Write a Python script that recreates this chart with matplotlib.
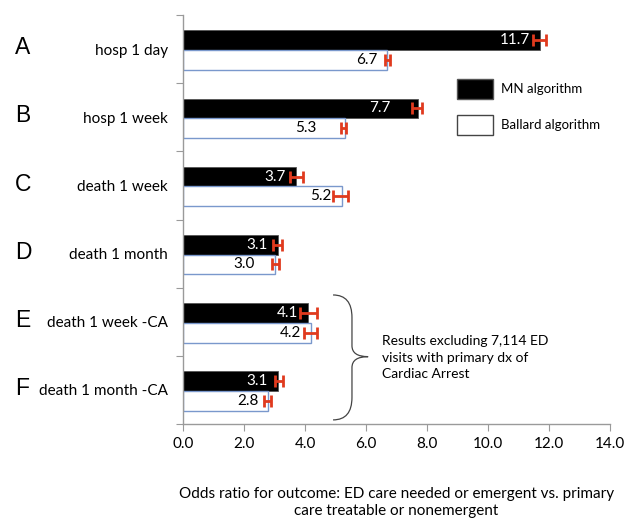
import numpy as np
import matplotlib
matplotlib.use("Agg")
import matplotlib.pyplot as plt
from matplotlib.patches import Patch, PathPatch
from matplotlib.path import Path

# data
letters = ["A", "B", "C", "D", "E", "F"]
categories = ["hosp 1 day", "hosp 1 week", "death 1 week", "death 1 month",
              "death 1 week -CA", "death 1 month -CA"]
mn = [11.7, 7.7, 3.7, 3.1, 4.1, 3.1]
mn_lo = [11.47, 7.52, 3.51, 2.96, 3.85, 3.02]
mn_hi = [11.90, 7.82, 3.92, 3.23, 4.40, 3.28]
ballard = [6.7, 5.3, 5.2, 3.0, 4.2, 2.8]
bal_lo = [6.62, 5.19, 4.93, 2.92, 3.97, 2.67]
bal_hi = [6.80, 5.33, 5.42, 3.14, 4.38, 2.87]
note = "Results excluding 7,114 ED\nvisits with primary dx of\nCardiac Arrest"
xlabel = "Odds ratio for outcome: ED care needed or emergent vs. primary\ncare treatable or nonemergent"

# label offsets (points) from bar end, a few were nudged in the original
mn_pad = [7, 20, 7, 7, 7, 7]
bal_pad = [7, 20, 7, 14, 7, 7]

font = "Lato"
spine_col = "#9a9a9a"
red = "#e03a1e"
blue_edge = "#7a98cc"

fig = plt.figure(figsize=(6.25, 5.22), dpi=100)
ax = fig.add_axes([183 / 625, 1 - 424 / 522, 427 / 625, 409 / 522])

n = len(categories)
centers = np.arange(n)[::-1] + 0.5
h = 0.29
y_mn = centers - 0.015 + h / 2
y_bal = centers - 0.015 - h / 2

ax.barh(y_mn, mn, height=h, color="black", edgecolor="#555555", linewidth=0.6, zorder=2)
ax.barh(y_bal, ballard, height=h, color="white", edgecolor=blue_edge, linewidth=1.0, zorder=2)

mn_err = [np.array(mn) - np.array(mn_lo), np.array(mn_hi) - np.array(mn)]
bal_err = [np.array(ballard) - np.array(bal_lo), np.array(bal_hi) - np.array(ballard)]
ax.errorbar(mn, y_mn, xerr=mn_err, fmt="none", ecolor=red, elinewidth=2,
            capsize=4, capthick=2, zorder=3)
ax.errorbar(ballard, y_bal, xerr=bal_err, fmt="none", ecolor=red, elinewidth=2,
            capsize=4, capthick=2, zorder=3)

for v, y, p in zip(mn, y_mn, mn_pad):
    ax.annotate(f"{v:.1f}", (v, y), xytext=(-p, 0), textcoords="offset points",
                ha="right", va="center", color="white", fontsize=11, family=font, zorder=4)
for v, y, p in zip(ballard, y_bal, bal_pad):
    ax.annotate(f"{v:.1f}", (v, y), xytext=(-p, 0), textcoords="offset points",
                ha="right", va="center", color="black", fontsize=11, family=font, zorder=4)

ax.set_xlim(0, 14)
ax.set_ylim(0, n)
ax.set_xticks(np.arange(0, 15, 2))
ax.set_xticklabels([f"{t:.1f}" for t in np.arange(0, 15, 2)], family=font, fontsize=11)
ax.set_yticks(np.arange(0, n + 1))
ax.set_yticklabels([])
ax.set_yticks(centers, minor=True)
ax.set_yticklabels(categories, minor=True, family=font, fontsize=11)
ax.tick_params(axis="y", which="minor", length=0, pad=11)
ax.tick_params(axis="both", which="major", length=5, color=spine_col, direction="out")
ax.tick_params(axis="x", pad=4)

for s in ["top", "right"]:
    ax.spines[s].set_visible(False)
for s in ["left", "bottom"]:
    ax.spines[s].set_color(spine_col)
    ax.spines[s].set_linewidth(1)

for L, y in zip(letters, centers):
    ax.text(-0.393, y + 0.02, L, transform=ax.get_yaxis_transform(), ha="left", va="center",
            fontsize=16.5, family="Liberation Sans")

ax.set_xlabel(xlabel, family=font, fontsize=11, labelpad=26, linespacing=1.35)

# curly brace next to E and F
x0, xm, xp = 4.92, 5.54, 6.07
yt, ymid, yb = 1.893, 0.988, 0.06
re, rm = 0.33, 0.16
verts = [(x0, yt), (xm, yt), (xm, yt - re), (xm, ymid + rm), (xm, ymid), (xp, ymid),
         (xm, ymid), (xm, ymid - rm), (xm, yb + re), (xm, yb), (x0, yb)]
codes = [Path.MOVETO, Path.CURVE3, Path.CURVE3, Path.LINETO, Path.CURVE3, Path.CURVE3,
         Path.CURVE3, Path.CURVE3, Path.LINETO, Path.CURVE3, Path.CURVE3]
ax.add_patch(PathPatch(Path(verts, codes), fill=False, edgecolor="#444444", linewidth=0.9))
ax.text(6.51, 0.975, note, ha="left", va="center", family=font, fontsize=10, linespacing=1.45)

handles = [Patch(facecolor="black", edgecolor="#555555"),
           Patch(facecolor="white", edgecolor="#444444")]
fig.legend(handles, ["MN algorithm", "Ballard algorithm"], loc="upper left",
           bbox_to_anchor=(457 / 625, 1 - 79 / 522), frameon=False, borderpad=0,
           borderaxespad=0, handlelength=2.7, handleheight=1.95, handletextpad=0.6,
           labelspacing=1.2, prop={"family": font, "size": 9.5})

fig.savefig("out.png", dpi=100)
